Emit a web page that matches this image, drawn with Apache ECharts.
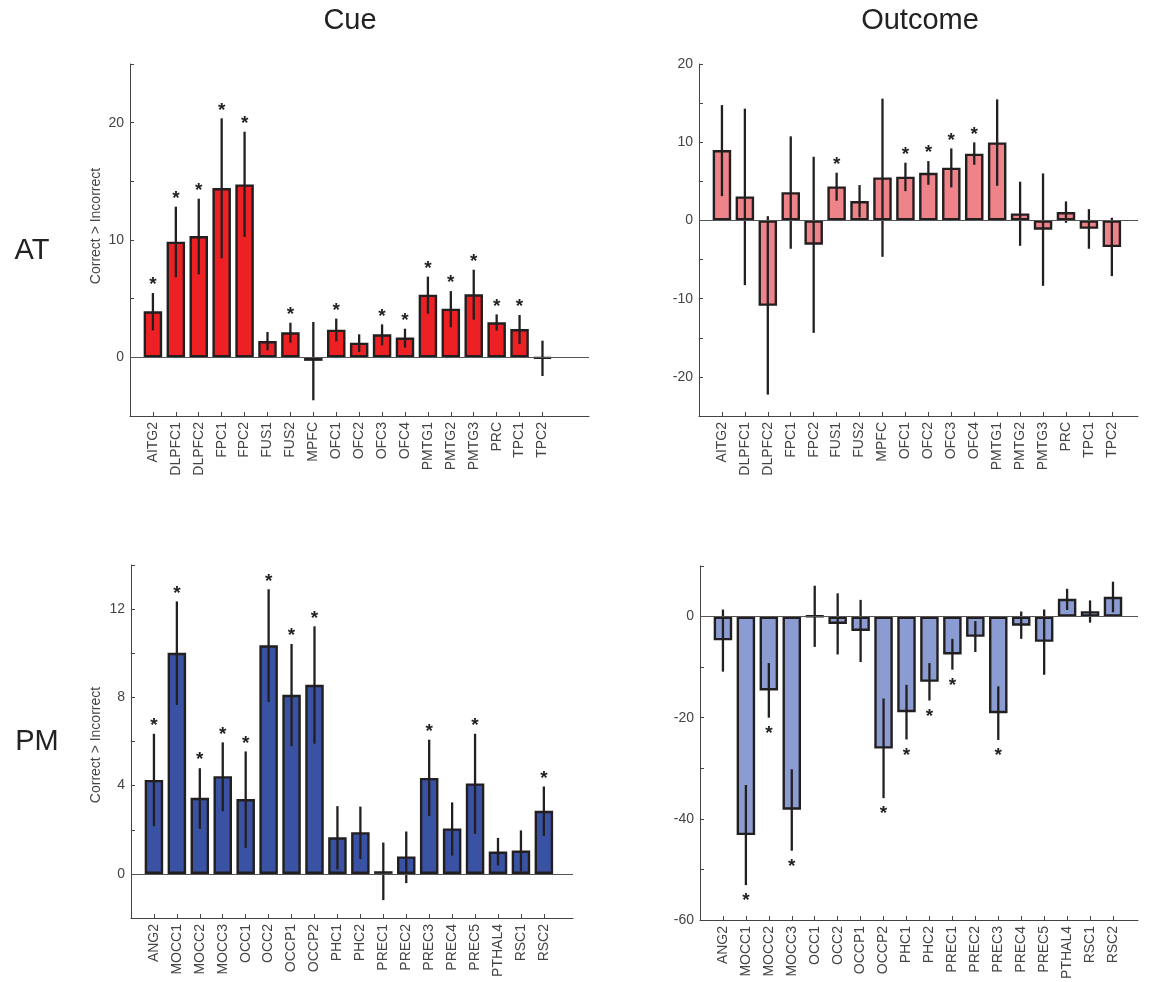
<!DOCTYPE html>
<html><head><meta charset="utf-8">
<script src="https://cdn.jsdelivr.net/npm/echarts@6/dist/echarts.min.js"></script>
<style>html,body{margin:0;padding:0;background:#fff}#c{width:1153px;height:982px}</style>
</head><body><div id="c"></div>
<script>
// ---- categories ----
const atCategories = ['AITG2','DLPFC1','DLPFC2','FPC1','FPC2','FUS1','FUS2','MPFC','OFC1','OFC2','OFC3','OFC4','PMTG1','PMTG2','PMTG3','PRC','TPC1','TPC2'];
const pmCategories = ['ANG2','MOCC1','MOCC2','MOCC3','OCC1','OCC2','OCCP1','OCCP2','PHC1','PHC2','PREC1','PREC2','PREC3','PREC4','PREC5','PTHAL4','RSC1','RSC2'];

// ---- AT / Cue ----
const atCueValues = [3.92, 9.86, 10.34, 14.43, 14.74, 1.39, 2.13, -0.3, 2.36, 1.25, 1.96, 1.68, 5.34, 4.15, 5.37, 2.98, 2.41, -0.1];
const atCueHigh   = [5.48, 12.84, 13.52, 20.37, 19.23, 2.16, 2.95, 3.01, 3.30, 1.96, 2.81, 2.44, 6.88, 5.65, 7.47, 3.66, 3.61, 1.42];
const atCueLow    = [2.30, 6.82, 7.07, 8.44, 10.26, 0.60, 1.25, -3.66, 1.36, 0.45, 1.02, 0.82, 3.72, 2.56, 3.21, 2.27, 1.14, -1.59];
const atCueSig    = [1,1,1,1,1,0,1,0,1,0,1,1,1,1,1,1,1,0];

// ---- AT / Outcome ----
const atOutValues = [9.0, 3.07, -10.92, 3.62, -3.11, 4.35, 2.47, 5.50, 5.59, 6.10, 6.74, 8.53, 9.98, 0.90, -1.19, 1.07, -1.07, -3.41];
const atOutHigh   = [14.75, 14.29, 0.55, 10.75, 8.14, 6.10, 4.52, 15.57, 7.38, 7.59, 9.21, 9.98, 15.48, 4.95, 6.01, 2.43, 1.45, 0.34];
const atOutLow    = [3.11, -8.27, -22.26, -3.62, -14.37, 2.52, 0.38, -4.65, 3.75, 4.56, 4.22, 7.12, 4.43, -3.24, -8.36, -0.30, -3.62, -7.12];
const atOutSig    = [0,0,0,0,0,1,0,0,1,1,1,1,0,0,0,0,0,0];

// ---- PM / Cue ----
const pmCueValues = [4.26, 10.02, 3.45, 4.43, 3.39, 10.36, 8.12, 8.57, 1.66, 1.89, 0.12, 0.79, 4.35, 2.06, 4.10, 1.01, 1.06, 2.86];
const pmCueHigh   = [6.35, 12.35, 4.79, 5.96, 5.55, 12.90, 10.42, 11.22, 3.07, 3.05, 1.42, 1.92, 6.08, 3.24, 6.35, 1.63, 1.97, 3.96];
const pmCueLow    = [2.16, 7.66, 2.04, 2.84, 1.18, 7.79, 5.79, 5.90, 0.20, 0.67, -1.19, -0.42, 2.62, 0.83, 1.81, 0.38, 0.11, 1.72];
const pmCueSig    = [1,1,1,1,1,1,1,1,0,0,0,0,1,0,1,0,0,1];

// ---- PM / Outcome ----
const pmOutValues = [-4.69, -43.2, -14.6, -38.2, 0.1, -1.45, -2.84, -26.1, -18.9, -12.9, -7.5, -4.0, -19.1, -1.8, -5.0, 3.5, 1.06, 3.9];
const pmOutHigh   = [1.39, -33.3, -9.2, -30.2, 6.1, 4.6, 3.3, -16.2, -13.5, -9.2, -4.4, -0.9, -13.8, 1.0, 1.4, 5.5, 3.2, 6.9];
const pmOutLow    = [-10.89, -53.1, -20.0, -46.3, -6.0, -7.5, -9.0, -35.9, -24.3, -16.6, -10.5, -7.0, -24.4, -4.4, -11.5, 1.3, -1.2, 0.86];
const pmOutSig    = [0,1,1,1,0,0,0,1,1,1,1,0,1,0,0,0,0,0];

// ---- titles ----
const columnTitles = ['Cue', 'Outcome'];
const rowTitles = ['AT', 'PM'];
const yAxisTitle = 'Correct > Incorrect';

const FONT = '"Liberation Sans", Arial, Helvetica, sans-serif';
const INK = '#231f20';
const AXIS = '#444';

const panels = [
  {cats: atCategories, v: atCueValues, hi: atCueHigh, lo: atCueLow, sig: atCueSig, color: '#ED2024',
   grid: {left: 130, top: 64, width: 459, height: 352}, xMax: 20.03, yMin: -5, yMax: 25, yInt: 5, yStep: 10},
  {cats: atCategories, v: atOutValues, hi: atOutHigh, lo: atOutLow, sig: atOutSig, color: '#EE838A',
   grid: {left: 699, top: 64, width: 439, height: 352}, xMax: 19.14, yMin: -25, yMax: 20, yInt: 5, yStep: 10},
  {cats: pmCategories, v: pmCueValues, hi: pmCueHigh, lo: pmCueLow, sig: pmCueSig, color: '#3A52A3',
   grid: {left: 131, top: 565, width: 442, height: 353}, xMax: 19.27, yMin: -2, yMax: 14, yInt: 2, yStep: 4},
  {cats: pmCategories, v: pmOutValues, hi: pmOutHigh, lo: pmOutLow, sig: pmOutSig, color: '#8A9CD1',
   grid: {left: 700, top: 566, width: 438, height: 354}, xMax: 19.09, yMin: -60, yMax: 10, yInt: 10, yStep: 20}
];

const grids = [], xAxes = [], yAxes = [], series = [];
panels.forEach((p, i) => {
  grids.push(Object.assign({containLabel: false}, p.grid));
  const pos = p.cats.map((_, k) => k + 1);
  xAxes.push({
    type: 'value', gridIndex: i, min: 0, max: p.xMax,
    axisLine: {show: true, onZero: false, lineStyle: {color: AXIS, width: 1}},
    axisTick: {show: true, inside: true, length: 4, customValues: pos, lineStyle: {color: AXIS}},
    axisLabel: {show: true, customValues: pos, rotate: 90, margin: 6, color: '#444', fontSize: 14, fontFamily: FONT,
      formatter: (val) => p.cats[Math.round(val) - 1] || ''},
    splitLine: {show: false}
  });
  yAxes.push({
    type: 'value', gridIndex: i, min: p.yMin, max: p.yMax, interval: p.yInt,
    axisLine: {show: true, onZero: false, lineStyle: {color: AXIS, width: 1}},
    axisTick: {show: true, inside: true, length: 4, lineStyle: {color: AXIS}},
    axisLabel: {show: true, margin: 6, color: '#444', fontSize: 14, fontFamily: FONT, showMinLabel: true, showMaxLabel: true,
      formatter: (val) => (Math.abs(val % p.yStep) < 1e-9 ? String(val) : '')},
    splitLine: {show: false}
  });
  series.push({
    type: 'bar', xAxisIndex: i, yAxisIndex: i, barWidth: 18.5, z: 2,
    data: p.v.map((val, k) => [k + 1, val]),
    itemStyle: {color: p.color, borderColor: INK, borderWidth: 2.4},
    markLine: {silent: true, symbol: 'none', label: {show: false}, animation: false,
      lineStyle: {color: '#555', width: 1, type: 'solid'}, data: [{yAxis: 0}]}
  });
  series.push({
    type: 'custom', xAxisIndex: i, yAxisIndex: i, z: 4,
    data: p.v.map((_, k) => [k + 1, p.lo[k], p.hi[k]]),
    encode: {x: 0, y: [1, 2]},
    renderItem: (params, api) => {
      const a = api.coord([api.value(0), api.value(1)]);
      const b = api.coord([api.value(0), api.value(2)]);
      return {type: 'line', shape: {x1: a[0], y1: a[1], x2: b[0], y2: b[1]},
        style: {stroke: INK, lineWidth: 2.3}};
    }
  });
  const starData = [];
  p.v.forEach((val, k) => {
    if (p.sig[k]) starData.push([k + 1, val >= 0 ? p.hi[k] : p.lo[k], val >= 0 ? 1 : -1]);
  });
  series.push({
    type: 'custom', xAxisIndex: i, yAxisIndex: i, z: 5,
    data: starData, encode: {x: 0, y: 1},
    renderItem: (params, api) => {
      const c = api.coord([api.value(0), api.value(1)]);
      const dir = api.value(2);
      return {type: 'text', x: c[0], y: c[1] + (dir > 0 ? -8 : 16),
        style: {text: '*', fill: INK, font: 'bold 19px ' + FONT, align: 'center', verticalAlign: 'middle',
          textAlign: 'center', textVerticalAlign: 'middle'}};
    }
  });
});

const graphic = [
  {type: 'text', x: 350, y: 21, style: {text: columnTitles[0], fill: '#222', font: '29px ' + FONT, align: 'center', verticalAlign: 'middle'}},
  {type: 'text', x: 920, y: 21, style: {text: columnTitles[1], fill: '#222', font: '29px ' + FONT, align: 'center', verticalAlign: 'middle'}},
  {type: 'text', x: 32, y: 251, style: {text: rowTitles[0], fill: '#222', font: '29px ' + FONT, align: 'center', verticalAlign: 'middle'}},
  {type: 'text', x: 37, y: 742, style: {text: rowTitles[1], fill: '#222', font: '29px ' + FONT, align: 'center', verticalAlign: 'middle'}},
  {type: 'text', x: 96, y: 226, rotation: Math.PI / 2, style: {text: yAxisTitle, fill: '#444', font: '14px ' + FONT, align: 'center', verticalAlign: 'middle'}},
  {type: 'text', x: 96, y: 745, rotation: Math.PI / 2, style: {text: yAxisTitle, fill: '#444', font: '14px ' + FONT, align: 'center', verticalAlign: 'middle'}}
];

const chart = echarts.init(document.getElementById('c'), null, {renderer: 'canvas'});
chart.setOption({
  animation: false,
  backgroundColor: '#fff',
  grid: grids, xAxis: xAxes, yAxis: yAxes, series: series, graphic: graphic
});
</script>
</body></html>
